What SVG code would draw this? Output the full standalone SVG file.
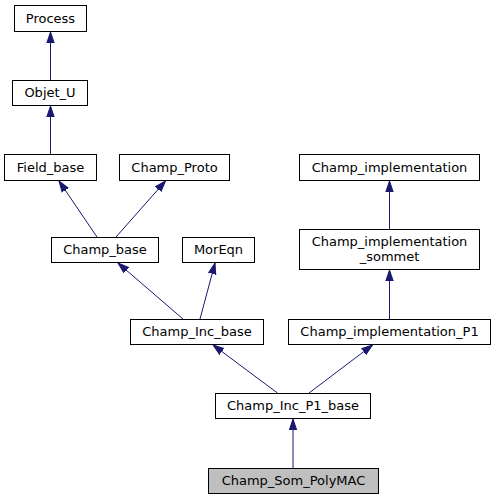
<svg xmlns="http://www.w3.org/2000/svg" width="496" height="500" viewBox="0 0 496 500">
<style>
.n{fill:#ffffff;stroke:#000000;stroke-width:1}
.g{fill:#bfbfbf;stroke:#000000;stroke-width:1}
.t{font-family:"DejaVu Sans",sans-serif;font-size:13px;fill:#000000;text-anchor:middle}
.e{stroke:#191970;stroke-width:1;fill:none;marker-end:url(#ah)}
</style>
<defs>
<marker id="ah" markerUnits="userSpaceOnUse" markerWidth="12" markerHeight="10" refX="11" refY="4" orient="auto" viewBox="0 0 12 8">
<path d="M0,0.3 L11,4 L0,7.7 z" fill="#191970" stroke="#191970" stroke-width="1"/>
</marker>
</defs>
<rect width="496" height="500" fill="#ffffff"/>
<g id="edges">
<line class="e" x1="50.5" y1="80.5" x2="50.5" y2="32"/>
<line class="e" x1="50.5" y1="154.5" x2="50.5" y2="106"/>
<line class="e" x1="97" y1="237" x2="59" y2="181"/>
<line class="e" x1="116" y1="237" x2="165.5" y2="181"/>
<line class="e" x1="183" y1="319" x2="118" y2="263"/>
<line class="e" x1="200" y1="319" x2="215" y2="263"/>
<line class="e" x1="389.5" y1="229.5" x2="389.5" y2="181"/>
<line class="e" x1="389.5" y1="319.5" x2="389.5" y2="270"/>
<line class="e" x1="277.5" y1="393" x2="213" y2="345"/>
<line class="e" x1="309" y1="393" x2="372.5" y2="345"/>
<line class="e" x1="293" y1="468.5" x2="293" y2="419"/>
</g>
<g id="Process"><rect class="n" x="14.5" y="5.5" width="72" height="26"/><text class="t" x="50.5" y="22.5">Process</text></g>
<g id="Objet_U"><rect class="n" x="12.5" y="80.5" width="75" height="25"/><text class="t" x="50" y="97">Objet_U</text></g>
<g id="Field_base"><rect class="n" x="4.5" y="154.5" width="92" height="26"/><text class="t" x="50.5" y="171.5">Field_base</text></g>
<g id="Champ_Proto"><rect class="n" x="119.5" y="154.5" width="110" height="26"/><text class="t" x="174.5" y="171.5">Champ_Proto</text></g>
<g id="Champ_implementation"><rect class="n" x="299.5" y="154.5" width="180" height="26"/><text class="t" x="389.5" y="171.5">Champ_implementation</text></g>
<g id="Champ_base"><rect class="n" x="51.5" y="237.5" width="107" height="25"/><text class="t" x="105" y="254">Champ_base</text></g>
<g id="MorEqn"><rect class="n" x="182.5" y="237.5" width="72" height="25"/><text class="t" x="218.5" y="254">MorEqn</text></g>
<g id="Champ_implementation_sommet"><rect class="n" x="299.5" y="229.5" width="180" height="40"/><text class="t" x="389.5" y="245.5">Champ_implementation</text><text class="t" x="389.5" y="260.5">_sommet</text></g>
<g id="Champ_Inc_base"><rect class="n" x="130.5" y="319.5" width="133" height="25"/><text class="t" x="197" y="336">Champ_Inc_base</text></g>
<g id="Champ_implementation_P1"><rect class="n" x="288.5" y="319.5" width="202" height="25"/><text class="t" x="389.5" y="336">Champ_implementation_P1</text></g>
<g id="Champ_Inc_P1_base"><rect class="n" x="215.5" y="393.5" width="155" height="25"/><text class="t" x="293" y="410">Champ_Inc_P1_base</text></g>
<g id="Champ_Som_PolyMAC"><rect class="g" x="208.5" y="468.5" width="170" height="25"/><text class="t" x="293.5" y="485">Champ_Som_PolyMAC</text></g>
</svg>
